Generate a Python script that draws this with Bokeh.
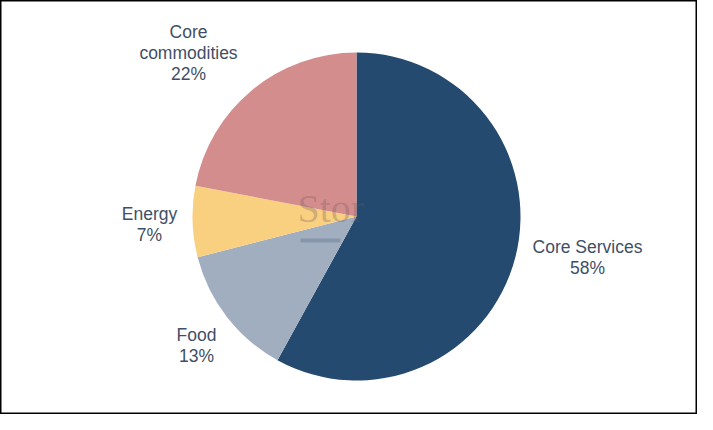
import math
from bokeh.plotting import figure
from bokeh.models import ColumnDataSource, Range1d
from bokeh.core.properties import value
from bokeh.embed import file_html
from bokeh.resources import INLINE

# ---- data ----
categories = ["Core Services", "Food", "Energy", "Core commodities"]
label_names = ["Core Services", "Food", "Energy", "Core\ncommodities"]
shares = [58, 13, 7, 22]
colors = ["#254a6f", "#a1aec0", "#f9cf80", "#d48d8d"]

# ---- layout ----
W, H = 697, 414
CX, CY, R = 356, 198, 164
# label block centres (plot pixel units)
label_x = [587, 196, 149, 188]
label_y = [157, 69, 190, 362]

total = float(sum(shares))
starts, ends = [], []
cum = 0.0
for s in shares:
    starts.append(math.pi / 2 - 2 * math.pi * cum / total)
    cum += s
    ends.append(math.pi / 2 - 2 * math.pi * cum / total)

texts = [f"{n}\n{round(100 * s / total)}%" for n, s in zip(label_names, shares)]

src = ColumnDataSource(dict(cat=categories, start=starts, end=ends, color=colors))
lab = ColumnDataSource(dict(x=label_x, y=label_y, text=texts))

p = figure(width=W, height=H, output_backend="svg", toolbar_location=None,
           x_range=Range1d(0, W), y_range=Range1d(0, H), min_border=0)
p.axis.visible = False
p.grid.visible = False
p.outline_line_color = "black"
p.outline_line_width = 2
p.background_fill_color = "white"
p.border_fill_color = "white"

p.wedge(x=CX, y=CY, radius=R, start_angle="start", end_angle="end",
        direction="clock", fill_color="color", line_color=None, source=src)

# faint watermark
p.text(x=[297], y=[206], text=["Stor"], text_font=value("Liberation Serif"),
       text_font_size="40px", text_color="#6a5858", text_alpha=0.3,
       text_align="left", text_baseline="middle")
p.quad(left=[300], right=[340], bottom=[172], top=[176],
       fill_color="#5a6a80", fill_alpha=0.35, line_color=None)

p.text(x="x", y="y", text="text", source=lab, text_font=value("Liberation Sans"),
       text_font_size="17.5px", text_color="#3f4f66", text_align="center",
       text_baseline="middle", text_line_height=1.05)

open("out.html", "w").write(file_html(p, INLINE))
